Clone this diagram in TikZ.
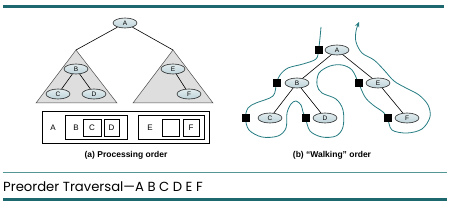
\documentclass[tikz,border=0pt]{standalone}
\usepackage{fontspec}
\setmainfont{Liberation Sans}
\newfontfamily\footfont{Poppins}
\usetikzlibrary{shapes.geometric, arrows.meta, positioning, shadows, backgrounds}
\definecolor{ruleteal}{RGB}{28, 104, 110}
\definecolor{thinteal}{RGB}{84, 150, 150}
\definecolor{walkteal}{RGB}{38, 124, 130}
\definecolor{nodeblue}{RGB}{190, 212, 218}
\definecolor{trigray}{RGB}{222, 222, 222}

\begin{document}
\begin{tikzpicture}[x=1pt, y=-1pt,
  tnode/.style={ellipse, draw=black!85, line width=0.6pt, top color=nodeblue!45, bottom color=nodeblue, minimum width=24pt, minimum height=10pt, inner sep=0pt, font=\fontsize{6.5}{7}\selectfont},
  sqnode/.style={fill=black, minimum size=8pt, inner sep=0pt},
  seqbox/.style={draw, line width=0.6pt, fill=white, inner sep=0pt, font=\fontsize{8}{9}\selectfont, drop shadow={shadow xshift=1.2pt, shadow yshift=-1.2pt, fill=black!45, opacity=1}},
  letter/.style={font=\fontsize{8}{9}\selectfont, inner sep=0pt},
  tri/.style={fill=trigray, draw=black!70, line width=0.5pt},
  tree/.style={line width=0.6pt},
  caption/.style={font=\bfseries\fontsize{8.5}{10}\selectfont},
  walk/.style={walkteal, line width=0.8pt, -{Stealth[length=5pt, width=4.5pt]}}
]
  \useasboundingbox (0,0) rectangle (453,205);

  % Rules
  \draw[ruleteal, line width=3pt] (3,6.5) -- (444,6.5);
  \draw[thinteal, line width=1.2pt] (3,172.5) -- (447,172.5);
  \draw[ruleteal, line width=2.5pt] (3,199.5) -- (447,199.5);

  % (a) Processing order: subtrees
  \coordinate (lapex) at (76,50);
  \coordinate (rapex) at (173,50);
  \draw[tri] (lapex) -- (36,103) -- (117,103) -- cycle;
  \draw[tri] (rapex) -- (133,103) -- (213,103) -- cycle;

  \node[tnode] (a-A) at (125,23) {A};
  \node[tnode] (a-B) at (76,69) {B};
  \node[tnode] (a-C) at (58,94) {C};
  \node[tnode] (a-D) at (94,94) {D};
  \node[tnode] (a-E) at (173,69) {E};
  \node[tnode] (a-F) at (189,94) {F};

  \draw[tree] (a-A) -- (lapex);
  \draw[tree] (a-A) -- (rapex);
  \draw[tree] (a-B) -- (a-C);
  \draw[tree] (a-B) -- (a-D);
  \draw[tree] (a-E) -- (a-F);

  % Nested boxes
  \node[seqbox, minimum width=167pt, minimum height=32pt] (outer) at (125.5,127) {};
  \node[letter] (lbl-A) at (53,127.5) {A};
  \node[seqbox, minimum width=62pt, minimum height=24pt] (box-BCD) at (96,127) {};
  \node[letter] (lbl-B) at (76,127.5) {B};
  \node[seqbox, minimum width=18pt, minimum height=17pt] (box-C) at (92,127.5) {C};
  \node[seqbox, minimum width=15pt, minimum height=17pt] (box-D) at (111.5,127.5) {D};
  \node[seqbox, minimum width=66pt, minimum height=24pt] (box-EF) at (171,127) {};
  \node[letter] (lbl-E) at (150,127.5) {E};
  \node[seqbox, minimum width=17pt, minimum height=17pt] (box-nil) at (170.5,127.5) {};
  \node[seqbox, minimum width=16pt, minimum height=17pt] (box-F) at (191,127.5) {F};

  \node[caption] (cap-a) at (126,155) {(a) Processing order};

  % (b) Walking order
  \node[tnode] (b-A) at (337,50) {A};
  \node[tnode] (b-B) at (297,83) {B};
  \node[tnode] (b-E) at (378,83) {E};
  \node[tnode] (b-C) at (270,118) {C};
  \node[tnode] (b-D) at (325,118) {D};
  \node[tnode] (b-F) at (407,118) {F};

  \draw[tree] (b-A) -- (b-B);
  \draw[tree] (b-A) -- (b-E);
  \draw[tree] (b-B) -- (b-C);
  \draw[tree] (b-B) -- (b-D);
  \draw[tree] (b-E) -- (b-F);

  \node[sqnode, left=2pt of b-A] (sq-A) {};
  \node[sqnode, left=4pt of b-B] (sq-B) {};
  \node[sqnode, left=8pt of b-C] (sq-C) {};
  \node[sqnode, left=3pt of b-D] (sq-D) {};
  \node[sqnode, left=3pt of b-E] (sq-E) {};
  \node[sqnode, left=3pt of b-F] (sq-F) {};

  \begin{scope}[on background layer]
    \draw[walk] plot[smooth, tension=0.55] coordinates {
      (321,27) (320,38) (sq-A) (316,59) (303,64) (288,68) (280,75) (sq-B)
      (273,96) (256,103) (248,108) (sq-C) (249,130) (262,137) (278,136) (286,128)
      (287,113) (291,104) (296,101) (301,105) (303,112) (sq-D) (310,131) (322,137)
      (336,136) (343,127) (343,110) (336,99) (322,93) (317,85) (319,73) (330,66)
      (342,65) (352,70) (sq-E) (365,97) (373,105) (383,112) (sq-F) (392,130)
      (407,133) (422,129) (430,117) (428,105) (419,95) (406,88) (394,81) (384,70)
      (374,60) (362,53) (356,42) (356,31) (359,22)};
  \end{scope}

  \node[caption] (cap-b) at (332,155) {(b) “Walking” order};

  % Footer
  \node[anchor=base west, inner sep=0pt, font=\footfont\fontsize{13.2}{15}\selectfont] (footer) at (3,191.5) {Preorder Traversal—A B C D E F};
\end{tikzpicture}
\end{document}
